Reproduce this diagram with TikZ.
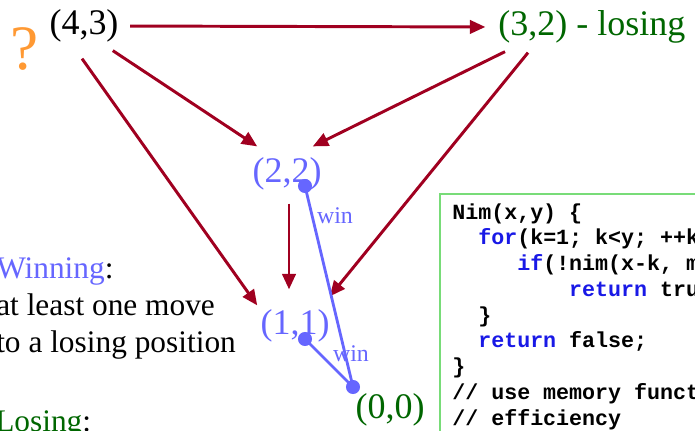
\documentclass[tikz,border=0pt]{standalone}
\usepackage{fontspec}
\setmainfont{Liberation Serif}
\newfontfamily\codefont{Liberation Mono}
\usetikzlibrary{arrows.meta,positioning}
\definecolor{movered}{RGB}{160, 0, 32}
\definecolor{winblue}{RGB}{102, 102, 255}
\definecolor{losegreen}{RGB}{0, 102, 0}
\definecolor{askorange}{RGB}{255, 153, 51}
\definecolor{keywordblue}{RGB}{25, 25, 230}
\definecolor{boxgreen}{RGB}{120, 220, 120}
\newcommand{\kw}[1]{\textcolor{keywordblue}{#1}}

\begin{document}
\begin{tikzpicture}[x=0.025cm, y=-0.025cm, >={Triangle[length=11pt, width=9.5pt]}]
        \useasboundingbox (0, 0) rectangle (695, 430);
        \clip (0, 0) rectangle (695, 430);
        \tikzset{
            state/.style={font=\fontsize{25.6}{28}\selectfont, inner sep=0pt},
            movearrow/.style={->, draw=movered, line width=2.1pt},
            winline/.style={draw=winblue, line width=2pt},
            windot/.style={circle, fill=winblue, inner sep=0pt, minimum size=10pt},
            winlabel/.style={font=\fontsize{17}{19}\selectfont, text=winblue, inner sep=0pt},
            ruletext/.style={font=\fontsize{22.3}{26.3}\selectfont, align=left, inner sep=0pt}
        }

        % Positions
        \node[font=\fontsize{45}{48}\selectfont, text=askorange, inner sep=0pt] (ask) at (25, 49) {?};
        \node[state] (n43) at (84, 26) {(4,3)};
        \node[state, text=losegreen, anchor=west] (n32) at (498, 27) {(3,2) - losing};
        \node[state, text=winblue] (n22) at (287, 174) {(2,2)};
        \node[state, text=winblue] (n11) at (295, 326) {(1,1)};
        \node[state, text=losegreen] (n00) at (390, 410) {(0,0)};

        % Moves
        \draw[movearrow, shorten <=8pt, shorten >=9pt] (n43.east) -- (n32.west);
        \draw[movearrow] ([shift={(-6, 8)}]n43.south east) -- ([shift={(5, -11)}]n22.north west);
        \draw[movearrow] ([shift={(-2, 16)}]n43.south) -- ([shift={(-3, -4)}]n11.north west);
        \draw[movearrow] ([shift={(2, 13)}]n22.south) -- ([shift={(-6, -20)}]n11.north);
        \draw[movearrow] ([shift={(7, 8)}]n32.south west) -- ([shift={(-9, -11)}]n22.north east);
        \draw[movearrow] ([shift={(30, 9)}]n32.south west) -- ([shift={(0, -13)}]n11.north east);

        % Winning moves
        \node[windot] (d22) at (305, 186) {};
        \node[windot] (d11) at (305, 339) {};
        \node[windot] (d00) at (353, 387) {};
        \draw[winline] (d22.center) -- (d00.center);
        \draw[winline] (d11.center) -- (d00.center);
        \node[winlabel] (w22) at (335, 216) {win};
        \node[winlabel] (w11) at (351, 354) {win};

        % Rules
        \node[ruletext, anchor=base west] (winrule) at (-4, 352)
            {\textcolor{winblue}{Winning}:\\at least one move\\to a losing position};
        \node[ruletext, anchor=base west] (loserule) at (-5, 431)
            {\textcolor{losegreen}{Losing}:};

        % Code
        \draw[draw=boxgreen, line width=1.4pt] (440, 194) rectangle (720, 460);
        \node[font=\fontsize{15.4}{18.3}\codefont\bfseries, align=left, inner sep=0pt, anchor=base west] (nimcode) at (452, 425)
            {Nim(x,y) \{\\
             \phantom{xx}\kw{for}(k=1; k<y; ++k) \{\\
             \phantom{xxxxx}\kw{if}(!nim(x-k, m\\
             \phantom{xxxxxxxxx}\kw{return} true;\\
             \phantom{xx}\}\\
             \phantom{xx}\kw{return} false;\\
             \}\\
             // use memory function\\
             // efficiency};
    \end{tikzpicture}
\end{document}
